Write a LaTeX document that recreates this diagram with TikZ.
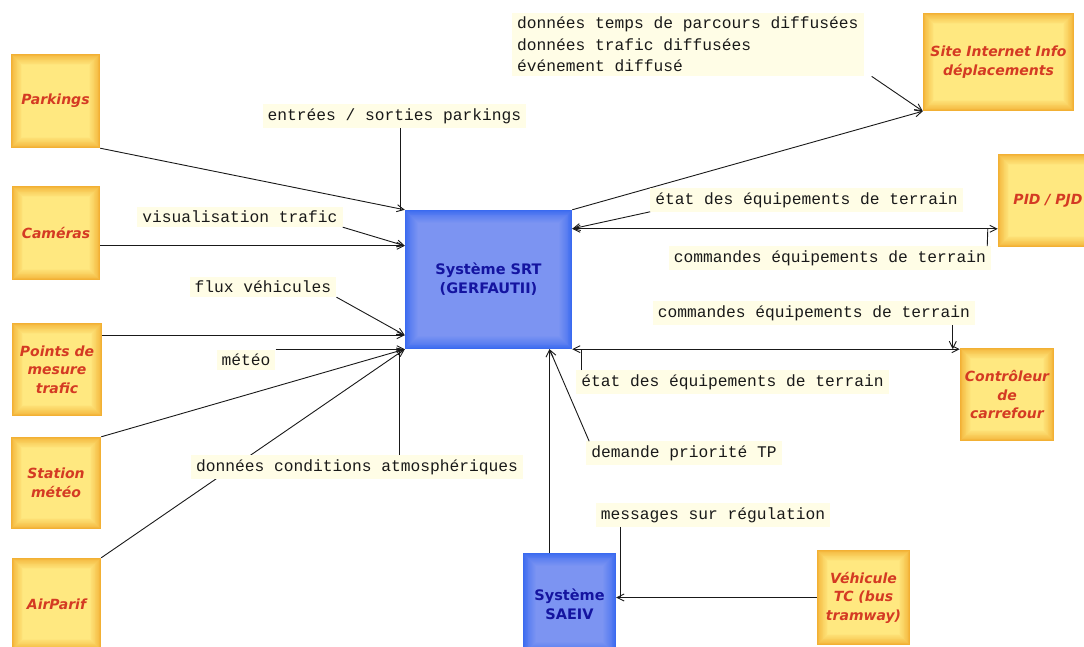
\documentclass[tikz,border=0pt]{standalone}
\usepackage{fontspec}
\newfontfamily\boxfont{DejaVu Sans}
\newfontfamily\lblfont{Liberation Mono}
\usetikzlibrary{arrows.meta}
\definecolor{ye}{RGB}{242,176,52}
\definecolor{yl}{RGB}{255,232,128}
\definecolor{be}{RGB}{58,106,240}
\definecolor{bl}{RGB}{124,148,242}
\definecolor{redtxt}{RGB}{212,58,35}
\definecolor{bluetxt}{RGB}{20,20,160}
\definecolor{lbg}{RGB}{255,253,230}
\definecolor{ink}{RGB}{25,25,25}
\definecolor{shd}{RGB}{228,228,228}
\tikzset{
  ybox/.style={rectangle, inner sep=0pt, align=center, text=redtxt,
    font=\boxfont\bfseries\itshape\fontsize{14}{18.5}\selectfont,
    path picture={\foreach \i in {0,...,14}{\pgfmathsetmacro\p{100*(\i/14)^0.8}
      \fill[yl!\p!ye] ([shift={(\i*0.8pt,-\i*0.8pt)}]path picture bounding box.north west)
        rectangle ([shift={(-\i*0.8pt,\i*0.8pt)}]path picture bounding box.south east);}}},
  bbox/.style={rectangle, inner sep=0pt, align=center, text=bluetxt,
    font=\boxfont\bfseries\fontsize{14.5}{19}\selectfont,
    path picture={\foreach \i in {0,...,14}{\pgfmathsetmacro\p{100*(\i/14)^0.8}
      \fill[bl!\p!be] ([shift={(\i*0.9pt,-\i*0.9pt)}]path picture bounding box.north west)
        rectangle ([shift={(-\i*0.9pt,\i*0.9pt)}]path picture bounding box.south east);}}},
  lbl/.style={fill=lbg, inner xsep=5pt, inner ysep=4pt, text=ink, align=left,
    font=\lblfont\fontsize{16.25}{21.5}\selectfont},
  wire/.style={draw=ink, line width=0.9pt},
  arr/.style={wire, -{Straight Barb[length=7pt,width=7pt]}},
  darr/.style={wire, {Straight Barb[length=7pt,width=7pt]}-{Straight Barb[length=7pt,width=7pt]}},
}
\begin{document}
\begin{tikzpicture}[x=1pt,y=-1pt]
\useasboundingbox (0,0) rectangle (1084,646);
\clip (0,0) rectangle (1084,646);
\fill[white] (0,0) rectangle (1084,646);

% boxes
\node[ybox, minimum width=89pt, minimum height=94pt] (park) at (55.5,101) {Parkings};
\node[ybox, minimum width=88pt, minimum height=94pt] (cam) at (56,233) {Caméras};
\node[ybox, minimum width=90pt, minimum height=93pt] (pts) at (57,369.5) {Points de\\mesure\\trafic};
\node[ybox, minimum width=90pt, minimum height=92pt] (stat) at (56,483) {Station\\météo};
\node[ybox, minimum width=89pt, minimum height=92pt] (air) at (56.5,604) {AirParif};
\node[bbox, minimum width=167pt, minimum height=139pt] (srt) at (488.5,279.5) {Système SRT\\(GERFAUTII)};
\node[bbox, minimum width=93pt, minimum height=102pt] (saeiv) at (569.5,604) {Système\\SAEIV};
\node[ybox, minimum width=151pt, minimum height=98pt] (site) at (998.5,62) {Site Internet Info\\déplacements};
\node[ybox, minimum width=100pt, minimum height=93pt] (pid) at (1048,200.5) {PID / PJD};
\node[ybox, minimum width=94pt, minimum height=93pt] (ctrl) at (1007,394.5) {Contrôleur\\de\\carrefour};
\node[ybox, minimum width=93pt, minimum height=95pt] (veh) at (863.5,597.5) {Véhicule\\TC (bus\\tramway)};

% helper coordinates
\coordinate (pidA) at ([yshift=-19pt]srt.north east);
\coordinate (pidB) at (pidA -| pid.west);
\coordinate (ctrlB) at (srt.south east -| ctrl.west);
\coordinate (sA) at ([xshift=-20pt]saeiv.north);
\coordinate (sB) at (sA |- srt.south);
\coordinate (vB) at (veh.west -| saeiv.east);
\coordinate (camE) at ([yshift=-36pt]srt.north west);
\coordinate (ptsE) at ([yshift=14pt]srt.south west);

% main connectors
\draw[arr] (park.south east) -- (srt.north west);
\draw[arr] (cam.east |- camE) -- (camE);
\draw[arr] (pts.east |- ptsE) -- (ptsE);
\draw[arr] (stat.north east) -- (srt.south west);
\draw[arr] (air.north east) -- (srt.south west);
\draw[arr] (srt.north east) -- (site.south west);
\draw[darr] (pidA) -- (pidB);
\draw[darr] (srt.south east) -- (ctrlB);
\draw[arr] (sA) -- (sB);
\draw[arr] (veh.west) -- (vB);

% labels
\node[lbl] (l1) at (394.5,116) {entrées / sorties parkings};
\node[lbl] (l2) at (240,217) {visualisation trafic};
\node[lbl] (l3) at (263,287) {flux véhicules};
\node[lbl] (l4) at (246,360) {météo};
\node[lbl] (l5) at (357,467) {données conditions atmosphériques};
\node[lbl, anchor=north west] (l6) at (512,13) {données temps de parcours diffusées\\données trafic diffusées\\événement diffusé};
\node[lbl] (l7) at (806.5,200) {état des équipements de terrain};
\node[lbl] (l8) at (830,258) {commandes équipements de terrain};
\node[lbl] (l9) at (814,313) {commandes équipements de terrain};
\node[lbl] (l10) at (732.5,382) {état des équipements de terrain};
\node[lbl] (l11) at (684,453) {demande priorité TP};
\node[lbl] (l12) at (713,515) {messages sur régulation};

% leaders
\coordinate (c1) at ([xshift=-4pt]srt.north west);
\draw[wire] (c1 |- l1.south) -- (c1);
\draw[arr] (l2.south east) -- (camE);
\draw[arr] (l3.south east) -- (ptsE);
\draw[arr] (l4.east |- srt.south west) -- (srt.south west);
\coordinate (c5) at ([xshift=-5pt]srt.south west);
\draw[wire] (c5 |- l5.north) -- (c5);
\draw[arr] ([xshift=8pt]l6.south east) -- (site.south west);
\draw[arr] (l7.south west) -- (pidA);
\draw[wire] ([xshift=-4pt]l8.north east) -- ([xshift=-10pt]pidB);
\coordinate (c9) at ([xshift=-7pt]ctrlB);
\draw[arr] (c9 |- l9.south) -- (c9);
\coordinate (c10) at ([xshift=9pt]srt.south east);
\draw[wire] (c10 |- l10.north) -- (c10);
\draw[arr] ([xshift=3pt]l11.north west) -- (sB);
\coordinate (c12) at ([xshift=4pt]vB);
\draw[wire] (c12 |- l12.south) -- (c12);
\end{tikzpicture}
\end{document}
